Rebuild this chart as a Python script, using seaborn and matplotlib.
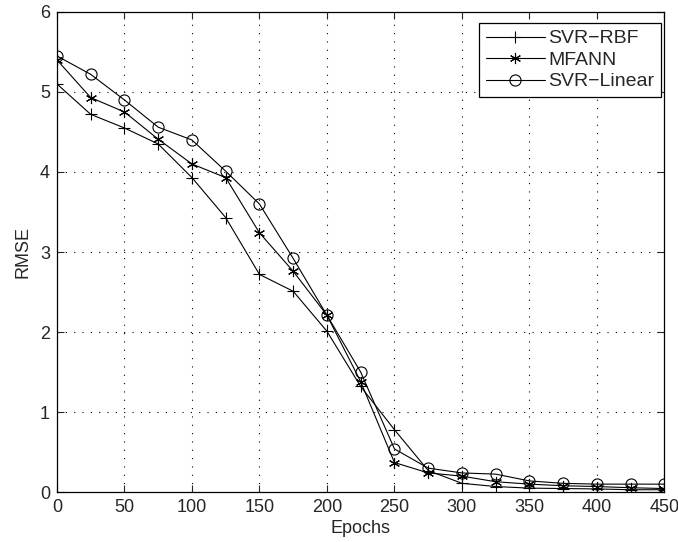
import numpy as np
import pandas as pd
import matplotlib
matplotlib.use("Agg")
import matplotlib.pyplot as plt
import seaborn as sns

epochs = [0, 25, 50, 75, 100, 125, 150, 175, 200, 225, 250, 275, 300, 325, 350, 375, 400, 425, 450]
svr_rbf = [5.10, 4.72, 4.55, 4.35, 3.93, 3.43, 2.72, 2.51, 2.01, 1.32, 0.78, 0.27, 0.11, 0.07, 0.05, 0.045, 0.04, 0.03, 0.03]
mfann = [5.40, 4.93, 4.75, 4.41, 4.10, 3.93, 3.24, 2.76, 2.21, 1.38, 0.37, 0.24, 0.20, 0.13, 0.10, 0.08, 0.07, 0.055, 0.045]
svr_linear = [5.45, 5.22, 4.90, 4.56, 4.40, 4.01, 3.60, 2.92, 2.21, 1.50, 0.54, 0.30, 0.24, 0.225, 0.14, 0.11, 0.10, 0.10, 0.10]
series_names = ["SVR\u2212RBF", "MFANN", "SVR\u2212Linear"]
x_ticks = [0, 50, 100, 150, 200, 250, 300, 350, 400, 450]
y_ticks = [0, 1, 2, 3, 4, 5, 6]

df = pd.DataFrame({
    "Epochs": epochs * 3,
    "RMSE": svr_rbf + mfann + svr_linear,
    "Model": [series_names[0]] * len(epochs) + [series_names[1]] * len(epochs) + [series_names[2]] * len(epochs),
})

sns.set_style("ticks")
plt.rcParams["font.family"] = ["Liberation Sans", "DejaVu Sans"]
plt.rcParams["font.size"] = 13

fig = plt.figure(figsize=(6.78, 5.42), dpi=100)
ax = fig.add_axes([0.084, 0.092, 0.896, 0.886])

markers = {series_names[0]: "+", series_names[1]: (6, 2, 0), series_names[2]: "o"}
msizes = {series_names[0]: 8, series_names[1]: 8, series_names[2]: 8}
for name in series_names:
    sub = df[df["Model"] == name]
    sns.lineplot(data=sub, x="Epochs", y="RMSE", ax=ax, color="black", linewidth=0.8,
                 marker=markers[name], markersize=msizes[name],
                 markerfacecolor="none", markeredgecolor="black", markeredgewidth=0.8,
                 label=name, sort=False)

ax.set_xlim(0, 450)
ax.set_ylim(0, 6)
ax.set_xticks(x_ticks)
ax.set_yticks(y_ticks)
ax.set_xlabel("Epochs", fontsize=13, labelpad=3)
ax.set_ylabel("RMSE", fontsize=13, labelpad=6)
ax.tick_params(direction="in", length=5, width=0.8, labelsize=13, top=True, right=True, pad=5)
ax.grid(True, linestyle=(0, (1, 6.5)), color="black", linewidth=0.8)
for s in ax.spines.values():
    s.set_visible(True)
    s.set_linewidth(0.9)
    s.set_color("black")

leg = ax.legend(loc="upper right", bbox_to_anchor=(0.995, 0.977), fontsize=14, frameon=True,
                fancybox=False, edgecolor="black", framealpha=1, borderpad=0.35,
                labelspacing=0.2, handlelength=3.0, handletextpad=0.2, borderaxespad=0)
leg.get_frame().set_linewidth(0.9)

fig.savefig("out.png", dpi=100)
